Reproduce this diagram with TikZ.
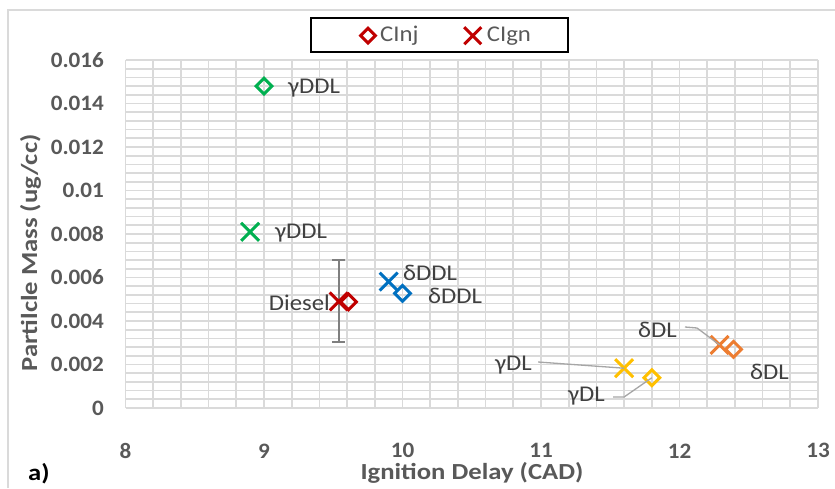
\documentclass[tikz,border=0pt]{standalone}
\usepackage{fontspec}
\setmainfont{Carlito}
\newfontfamily\ttlfont{Carlito}[FakeStretch=1.16]
\newfontfamily\tickfont{Carlito}[FakeStretch=1.05]
\newfontfamily\lblfont{Carlito}[FakeStretch=1.1]
\usetikzlibrary{shapes.geometric,shapes.misc}
\definecolor{cgreen}{HTML}{00B050}
\definecolor{cblue}{HTML}{0070C0}
\definecolor{cyellow}{HTML}{FFC000}
\definecolor{corange}{HTML}{ED7D31}
\definecolor{cred}{HTML}{C00000}
\definecolor{gridc}{HTML}{DADADA}
\definecolor{txt}{HTML}{404040}
\definecolor{axt}{HTML}{595959}
\definecolor{errc}{HTML}{7F7F7F}
\definecolor{leadc}{HTML}{A6A6A6}
\begin{document}
\begin{tikzpicture}[x=1pt,y=1pt,
  dmd/.style={diamond, draw=#1, line width=3pt, minimum size=17pt, inner sep=0pt},
  crs/.style={cross out, draw=#1, line width=3pt, minimum size=15pt, inner sep=0pt},
  lbl/.style={text=txt, font=\fontsize{22.5}{26}\selectfont\lblfont, inner sep=0pt},
  legtxt/.style={text=axt, font=\fontsize{22.5}{26}\selectfont\lblfont, inner sep=0pt, anchor=west},
  ticklbl/.style={text=axt, font=\fontsize{22}{26}\selectfont\tickfont\bfseries, inner sep=0pt},
  ttl/.style={text=axt, font=\fontsize{23}{27}\selectfont\ttlfont\bfseries, inner sep=0pt},
  leader/.style={draw=leadc, line width=1.3pt},
  gridline/.style={draw=gridc, line width=1.7pt}
]
\useasboundingbox (0,0) rectangle (835,488);
\fill[white] (0,0) rectangle (835,488);
% chart area border
\draw[gridc, line width=1.4pt] (8,0) -- (8,478) -- (835,478);

\begin{scope}[shift={(125.5,80)}, x=138.5pt, y=21.75pt]
  % grid
  \foreach \i in {0,...,25} \draw[gridline] (\i*0.2,0) -- (\i*0.2,16);
  \foreach \j in {0,...,40} \draw[gridline] (0,\j*0.4) -- (5,\j*0.4);
  % y tick labels
  \foreach \v/\t in {0/0,2/0.002,4/0.004,6/0.006,8/0.008,10/0.01,12/0.012,14/0.014,16/0.016}
    \node[ticklbl, anchor=east] (yt\v) at (-0.155,\v) {\t};
  % x tick labels
  \foreach \v in {8,...,13}
    \node[ticklbl] (xt\v) at (\v-8,-1.97) {\v};
  % error bar (Diesel)
  \coordinate (ebT) at (1.54,6.8);
  \coordinate (ebB) at (1.54,3.02);
  \draw[errc, line width=1.8pt] (ebT) -- (ebB);
  \draw[errc, line width=1.8pt] ([xshift=-6.5pt]ebT) -- ([xshift=6.5pt]ebT);
  \draw[errc, line width=1.8pt] ([xshift=-6.5pt]ebB) -- ([xshift=6.5pt]ebB);
  % markers: CInj (diamonds)
  \node[dmd=cgreen]  (gddlI) at (1.0,14.8) {};
  \node[dmd=cred]    (dieI)  at (1.61,4.88) {};
  \node[dmd=cblue]   (dddlI) at (2.0,5.27) {};
  \node[dmd=cyellow] (gdlI)  at (3.8,1.39) {};
  \node[dmd=corange] (ddlI)  at (4.39,2.7) {};
  % markers: CIgn (crosses)
  \node[crs=cgreen]  (gddlG) at (0.9,8.1) {};
  \node[crs=cred]    (dieG)  at (1.54,4.9) {};
  \node[crs=cblue]   (dddlG) at (1.90,5.81) {};
  \node[crs=cyellow] (gdlG)  at (3.6,1.83) {};
  \node[crs=corange] (ddlG)  at (4.29,2.9) {};
\end{scope}

% data labels
\node[lbl, anchor=west] (l1) at (288,400) {γDDL};
\node[lbl, anchor=west] (l2) at (275,255) {γDDL};
\node[lbl, anchor=east] (l3) at (330,185) {Diesel};
\node[lbl, anchor=west] (l4) at (403,215) {δDDL};
\node[lbl, anchor=west] (l5) at (428,192) {δDDL};
\node[lbl, anchor=west] (l6) at (638,158) {δDL};
\node[lbl, anchor=west] (l7) at (750,116) {δDL};
\node[lbl, anchor=west] (l8) at (495,123) {γDL};
\node[lbl, anchor=west] (l9) at (568,92) {γDL};

% leader lines
\draw[leader] ([xshift=6pt,yshift=3pt]l8.east) -- (gdlG.center);
\draw[leader] ([xshift=8pt,yshift=-1pt]l9.east) -- ++(11,0) -- (gdlI.center);
\draw[leader] ([xshift=8pt,yshift=3pt]l6.east) -- ++(12,-1) -- (ddlG.center);

% legend
\draw[black, line width=2pt, fill=white] (311,436) rectangle (568,470);
\node[diamond, draw=cred, line width=3pt, minimum size=16pt, inner sep=0pt] (legD) at (368,452.3) {};
\node[legtxt] (legDt) at (380,452) {CInj};
\node[cross out, draw=cred, line width=3pt, minimum size=14pt, inner sep=0pt] (legX) at (472.7,452.3) {};
\node[legtxt] (legXt) at (486.7,452) {CIgn};

% axis titles
\node[ttl, anchor=base] (xtitle) at (472,9) {Ignition Delay (CAD)};
\node[ttl, anchor=base, rotate=90] (ytitle) at (37,235) {Partilcle Mass (ug/cc)};
\node[anchor=base west, inner sep=0pt, font=\fontsize{23}{27}\selectfont\ttlfont\bfseries] (tag) at (28,8) {a)};
\end{tikzpicture}
\end{document}
